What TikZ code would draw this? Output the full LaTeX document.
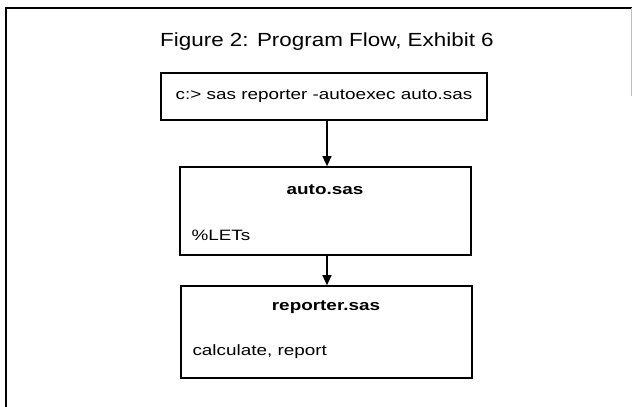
\documentclass[tikz,border=0pt]{standalone}
\usepackage{fontspec}
\setmainfont{Liberation Sans}
% widened faces for the hand-lettered look
\newfontfamily\titleface[FakeStretch=1.18]{Liberation Sans}
\newfontfamily\boxface[FakeStretch=1.26]{Liberation Sans}
\usetikzlibrary{arrows.meta}
\begin{document}
\begin{tikzpicture}[x=1pt,y=-1pt,
  frame/.style={line width=2pt},
  stepbox/.style={draw, line width=1.7pt, rectangle, inner sep=0pt},
  boxhead/.style={font=\boxface\fontsize{15}{17}\selectfont\bfseries, anchor=center},
  boxbody/.style={font=\boxface\fontsize{15}{17}\selectfont, anchor=west},
  flow/.style={line width=1.4pt, -{Triangle[length=10pt,width=9pt]}}]
  \useasboundingbox (0,0) rectangle (632,407);
  % outer frame: top and left rules, faint right edge
  \draw[frame] (6,407) -- (6,8) -- (632,8);
  \draw[line width=0.6pt, black!25] (631,8) -- (631,96);
  % title
  \node[font=\titleface\fontsize{19}{22}\selectfont] (title) at (327,42) {Figure 2: Program Flow, Exhibit 6};
  % command box
  \node[stepbox, minimum width=326pt, minimum height=47pt, font=\boxface\fontsize{15}{17}\selectfont]
    (cmd) at (324,96.5) {c:> sas reporter -autoexec auto.sas};
  % auto.sas box
  \node[stepbox, minimum width=291pt, minimum height=88pt] (auto) at (325.5,211) {};
  \node[boxhead] (autotitle) at (325,190) {auto.sas};
  \node[boxbody] (autobody) at (188,235) {\%LETs};
  % reporter.sas box
  \node[stepbox, minimum width=291pt, minimum height=92pt] (rep) at (326.5,332) {};
  \node[boxhead] (reptitle) at (326,307) {reporter.sas};
  \node[boxbody] (repbody) at (189,352) {calculate, report};
  % connectors
  \coordinate (ax) at (327,0);
  \draw[flow] (cmd.south -| ax) -- (auto.north -| ax);
  \draw[flow] (auto.south -| ax) -- (rep.north -| ax);
\end{tikzpicture}
\end{document}
